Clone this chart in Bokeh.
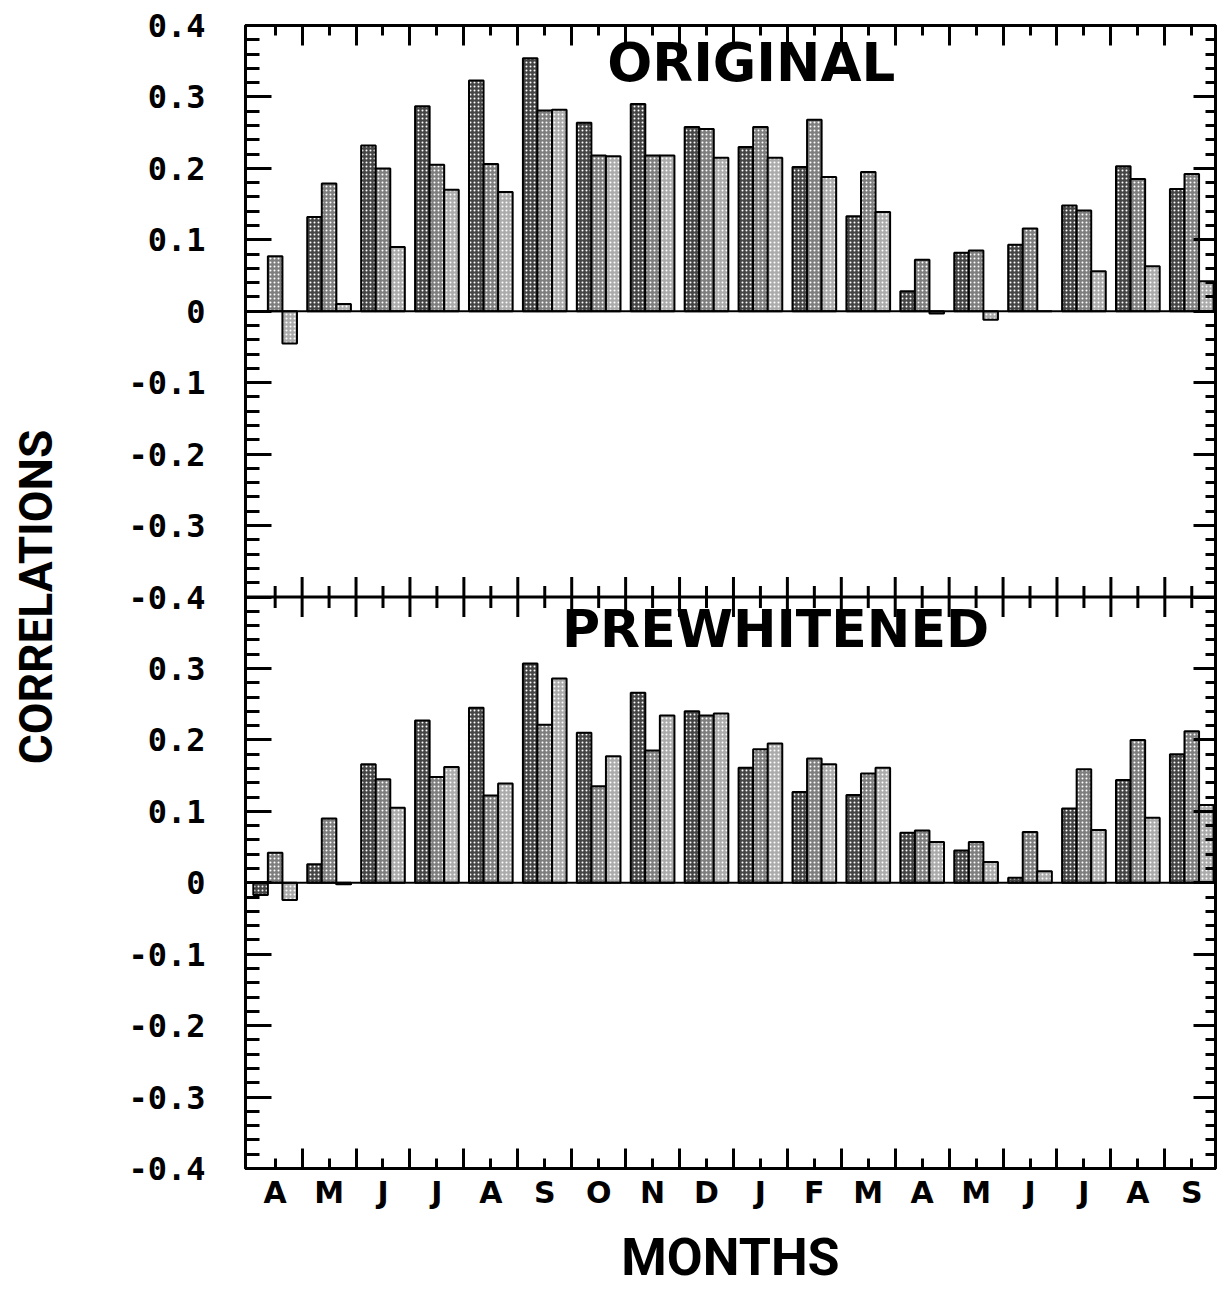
import numpy as np
from bokeh.plotting import figure
from bokeh.models import ColumnDataSource, Range1d, LinearAxis, FixedTicker, Span, Label
from bokeh.transform import dodge
from bokeh.embed import file_html
from bokeh.resources import INLINE

# ---------------- data ----------------
months = ["A", "M", "J", "J", "A", "S", "O", "N", "D",
          "J", "F", "M", "A", "M", "J", "J", "A", "S"]

original_dark = [0.0, 0.132, 0.232, 0.287, 0.323, 0.354, 0.264, 0.290, 0.258,
                 0.230, 0.202, 0.133, 0.028, 0.082, 0.093, 0.148, 0.203, 0.171]
original_medium = [0.077, 0.179, 0.200, 0.205, 0.206, 0.281, 0.218, 0.218, 0.255,
                   0.258, 0.268, 0.195, 0.072, 0.085, 0.116, 0.141, 0.185, 0.192]
original_light = [-0.045, 0.010, 0.090, 0.170, 0.167, 0.282, 0.217, 0.218, 0.215,
                  0.215, 0.188, 0.139, -0.003, -0.012, 0.0, 0.056, 0.063, 0.042]

prewhitened_dark = [-0.017, 0.026, 0.166, 0.227, 0.245, 0.307, 0.210, 0.266, 0.240,
                    0.161, 0.127, 0.123, 0.070, 0.045, 0.007, 0.104, 0.144, 0.180]
prewhitened_medium = [0.042, 0.090, 0.145, 0.148, 0.122, 0.221, 0.135, 0.185, 0.234,
                      0.187, 0.174, 0.153, 0.073, 0.057, 0.071, 0.159, 0.200, 0.212]
prewhitened_light = [-0.024, -0.002, 0.105, 0.162, 0.139, 0.286, 0.177, 0.234, 0.237,
                     0.195, 0.166, 0.161, 0.057, 0.029, 0.016, 0.074, 0.091, 0.109]

# tick labels: lower panel (-0.4 .. 0.3) then upper panel (-0.4 .. 0.4)
lower_tick_labels = ["-0.4", "-0.3", "-0.2", "-0.1", "0", "0.1", "0.2", "0.3"]
upper_tick_labels = ["-0.4", "-0.3", "-0.2", "-0.1", "0", "0.1", "0.2", "0.3", "0.4"]

# ---------------- layout helpers ----------------
n = len(months)
centers = list(range(n))
boundaries = [i + 0.5 for i in range(n - 1)]
y_ticks = [round(-1.2 + 0.1 * k, 1) + 0.0 for k in range(17)]
y_minor = [round(-1.2 + 0.02 * k, 2) + 0.0 for k in range(81)]
y_overrides = dict(zip(y_ticks, lower_tick_labels + upper_tick_labels))

src = ColumnDataSource(dict(
    x=centers,
    od=original_dark, om=original_medium, ol=original_light,
    pd=prewhitened_dark, pm=prewhitened_medium, pl=prewhitened_light,
))

p = figure(width=1218, height=1290,
           x_range=Range1d(-0.55, 17.44), y_range=Range1d(-1.2, 0.4),
           output_backend="svg", toolbar_location=None,
           min_border_left=245, min_border_right=3, min_border_top=25, min_border_bottom=116)
p.extra_y_ranges = {"bot": Range1d(-0.4, 1.2)}
p.grid.visible = False
p.outline_line_color = "black"
p.outline_line_width = 3
p.background_fill_color = "white"
p.border_fill_color = "white"

xt = FixedTicker(ticks=centers, minor_ticks=boundaries)
yt = FixedTicker(ticks=y_ticks, minor_ticks=y_minor)


def style_axis(ax, major_in, minor_in):
    ax.axis_line_color = "black"
    ax.axis_line_width = 3
    ax.major_tick_in = major_in
    ax.major_tick_out = 0
    ax.minor_tick_in = minor_in
    ax.minor_tick_out = 0
    ax.major_tick_line_width = 3
    ax.minor_tick_line_width = 3
    ax.major_tick_line_color = "black"
    ax.minor_tick_line_color = "black"


# bottom axis
xa = p.xaxis[0]
xa.ticker = xt
xa.major_label_overrides = {i: m for i, m in enumerate(months)}
style_axis(xa, 10, 20)
xa.major_label_text_font = "DejaVu Sans"
xa.major_label_text_font_style = "bold"
xa.major_label_text_font_size = "30px"
xa.major_label_text_color = "black"
xa.major_label_standoff = 6
xa.axis_label = "MONTHS"
xa.axis_label_text_font = "Roboto"
xa.axis_label_text_font_style = "bold"
xa.axis_label_text_font_size = "52px"
xa.axis_label_text_color = "black"
xa.axis_label_standoff = 14

# left axis
ya = p.yaxis[0]
ya.ticker = yt
ya.major_label_overrides = y_overrides
style_axis(ya, 26, 14)
ya.major_label_text_font = "DejaVu Sans Mono"
ya.major_label_text_font_style = "bold"
ya.major_label_text_font_size = "32px"
ya.major_label_text_color = "black"
ya.major_label_standoff = 40
ya.axis_label = "CORRELATIONS"
ya.axis_label_text_font = "Roboto"
ya.axis_label_text_font_style = "bold"
ya.axis_label_text_font_size = "46px"
ya.axis_label_text_color = "black"
ya.axis_label_standoff = 62

# right & top axes (ticks only, labels not drawn)
ra = LinearAxis(ticker=yt, major_label_text_font_size="1px", major_label_text_color=None,
                major_label_standoff=0)
style_axis(ra, 22, 10)
p.add_layout(ra, "right")
ta = LinearAxis(ticker=xt, major_label_text_font_size="1px", major_label_text_color=None,
                major_label_standoff=0)
style_axis(ta, 10, 20)
p.add_layout(ta, "above")

# bars
styles = [
    dict(fill_color="#454545", hatch_pattern="dot", hatch_color="white", hatch_scale=4, hatch_weight=1.5),
    dict(fill_color="#7e7e7e", hatch_pattern="dot", hatch_color="white", hatch_scale=4, hatch_weight=1.5),
    dict(fill_color="#ababab", hatch_pattern="dot", hatch_color="white", hatch_scale=4, hatch_weight=1.5),
]
offsets = [-0.27, 0.0, 0.27]
for col, off, st in zip(["od", "om", "ol"], offsets, styles):
    p.vbar(x=dodge("x", off, range=p.x_range), top=col, bottom=0, width=0.27, source=src,
           line_color="black", line_width=2, **st)
for col, off, st in zip(["pd", "pm", "pl"], offsets, styles):
    p.vbar(x=dodge("x", off, range=p.x_range), top=col, bottom=0, width=0.27, source=src,
           y_range_name="bot", line_color="black", line_width=2, **st)

# zero lines and panel divider
p.add_layout(Span(location=0, dimension="width", line_color="black", line_width=2))
p.add_layout(Span(location=0, dimension="width", y_range_name="bot", line_color="black", line_width=2))
p.add_layout(Span(location=-0.4, dimension="width", line_color="black", line_width=3))
p.scatter(x=boundaries, y=[-0.4] * len(boundaries), marker="dash", angle=np.pi / 2,
          size=40, line_color="black", line_width=3)
p.scatter(x=centers, y=[-0.4] * len(centers), marker="dash", angle=np.pi / 2,
          size=22, line_color="black", line_width=3)

# panel titles
p.add_layout(Label(x=8.83, y=0.348, text="ORIGINAL", text_align="center", text_baseline="middle",
                   text_font="DejaVu Sans", text_font_style="bold", text_font_size="53px",
                   text_color="black"))
p.add_layout(Label(x=9.28, y=0.355, y_range_name="bot", text="PREWHITENED", text_align="center",
                   text_baseline="middle", text_font="DejaVu Sans", text_font_style="bold",
                   text_font_size="52px", text_color="black"))

open("out.html", "w").write(file_html(p, INLINE))
